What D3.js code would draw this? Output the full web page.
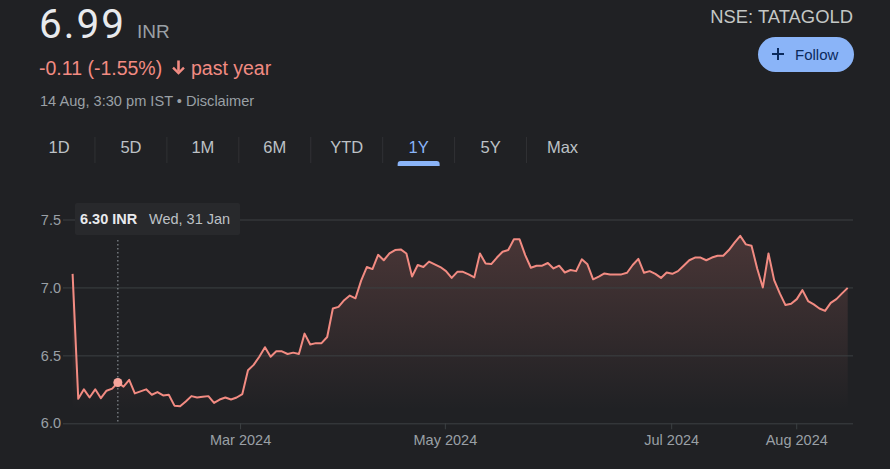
<!DOCTYPE html>
<html>
<head>
<meta charset="utf-8">
<script src="https://cdn.jsdelivr.net/npm/d3@7"></script>
<style>
  html, body { margin: 0; padding: 0; background: #202124; }
  svg { display: block; }
  text { font-family: "Liberation Sans", Arial, sans-serif; }
</style>
</head>
<body>
<div id="chart"></div>
<script>
// ---- data ----
const prices = [
  7.10, 6.18, 6.25, 6.19, 6.25, 6.185, 6.24, 6.255, 6.30, 6.27,
  6.32, 6.22, 6.235, 6.25, 6.21, 6.23, 6.205, 6.21, 6.13, 6.125,
  6.16, 6.20, 6.19, 6.195, 6.20, 6.15, 6.175, 6.19, 6.175, 6.19,
  6.215, 6.39, 6.43, 6.49, 6.56, 6.49, 6.53, 6.53, 6.51, 6.52,
  6.51, 6.66, 6.58, 6.59, 6.59, 6.635, 6.845, 6.857, 6.906, 6.94,
  6.92, 7.05, 7.15, 7.135, 7.24, 7.20, 7.25, 7.275, 7.28, 7.25,
  7.08, 7.165, 7.15, 7.19, 7.17, 7.15, 7.12, 7.07, 7.115, 7.115,
  7.096, 7.074, 7.25, 7.177, 7.172, 7.22, 7.263, 7.275, 7.354, 7.354,
  7.238, 7.145, 7.16, 7.16, 7.18, 7.14, 7.16, 7.11, 7.128, 7.12,
  7.207, 7.17, 7.06, 7.08, 7.103, 7.096, 7.096, 7.096, 7.108, 7.165,
  7.21, 7.108, 7.12, 7.10, 7.07, 7.11, 7.10, 7.12, 7.16, 7.20,
  7.22, 7.22, 7.20, 7.22, 7.233, 7.233, 7.275, 7.33, 7.38, 7.317,
  7.307, 7.14, 7.00, 7.25, 7.054, 6.956, 6.87, 6.88, 6.914, 6.98,
  6.90, 6.875, 6.845, 6.827, 6.886, 6.914, 6.956, 6.997
];
const monthTickLabels = ["Mar 2024", "May 2024", "Jul 2024", "Aug 2024"];
const monthTickIndex = [29.6, 65.8, 105.8, 127.9];
const yTickValues = [6.0, 6.5, 7.0, 7.5];
const rangeTabs = ["1D", "5D", "1M", "6M", "YTD", "1Y", "5Y", "Max"];
const activeTab = "1Y";
const hoverIndex = 8;
const hoverPrice = "6.30 INR";
const hoverDate = "Wed, 31 Jan";
const headerPrice = "6.99";
const headerCurrency = "INR";
const headerChange = "-0.11 (-1.55%)";
const headerPeriod = "past year";
const headerTime = "14 Aug, 3:30 pm IST";
const tickerName = "NSE: TATAGOLD";

// ---- drawing ----
const W = 890, H = 469;
const svg = d3.select("#chart").append("svg").attr("width", W).attr("height", H);
svg.append("rect").attr("width", W).attr("height", H).attr("fill", "#202124");

const LINE = "#f28b82";
const GRID = "#3c4043";

// Header
svg.append("text").attr("x", 39).attr("y", 38).attr("font-size", 40.5).attr("fill", "#e8eaed")
  .attr("letter-spacing", 2)
  .style("font-family", "Roboto, 'Liberation Sans', Arial").text(headerPrice);
svg.append("text").attr("x", 137).attr("y", 38).attr("font-size", 19).attr("fill", "#9aa0a6").text(headerCurrency);

svg.append("text").attr("x", 39).attr("y", 75).attr("font-size", 19.5).attr("fill", LINE).text(headerChange);
// arrow (filled, material style)
const arrowG = svg.append("g").attr("transform", "translate(178.5,68)");
arrowG.append("rect").attr("x", -1.3).attr("y", -7.5).attr("width", 2.6).attr("height", 11)
  .attr("fill", LINE);
arrowG.append("path").attr("d", "M-6.3,0.5 L0,6.8 L6.3,0.5 L4.6,-1.2 L0,3.4 L-4.6,-1.2 Z").attr("fill", LINE);
svg.append("text").attr("x", 191).attr("y", 75).attr("font-size", 19.5).attr("fill", LINE).text(headerPeriod);

svg.append("text").attr("x", 40).attr("y", 106).attr("font-size", 14.6).attr("fill", "#9aa0a6")
  .text(headerTime + " \u2022 Disclaimer");

svg.append("text").attr("x", 853).attr("y", 23).attr("font-size", 18.4).attr("text-anchor", "end")
  .attr("fill", "#c4c7c5").text(tickerName);

// Follow button
svg.append("rect").attr("x", 758).attr("y", 37).attr("width", 96).attr("height", 35).attr("rx", 17.5)
  .attr("fill", "#8ab4f8");
svg.append("path").attr("d", "M778,48 L778,60 M772,54 L784,54").attr("stroke", "#0b2a5c").attr("stroke-width", 2);
svg.append("text").attr("x", 795).attr("y", 59.5).attr("font-size", 15).attr("fill", "#0b2a5c").text("Follow");

// Tabs
const tabCenters = d3.scalePoint().domain(rangeTabs).range([59, 562.5]);
const tabG = svg.append("g");
rangeTabs.forEach((t, i) => {
  tabG.append("text").attr("x", tabCenters(t)).attr("y", 153).attr("font-size", 16.5)
    .attr("text-anchor", "middle").attr("fill", t === activeTab ? "#8ab4f8" : "#bdc1c6").text(t);
  if (i > 0) {
    const sx = (tabCenters(rangeTabs[i - 1]) + tabCenters(t)) / 2;
    tabG.append("line").attr("x1", sx).attr("x2", sx).attr("y1", 137).attr("y2", 163)
      .attr("stroke", "#303134").attr("stroke-width", 1);
  }
});
const ax = tabCenters(activeTab);
svg.append("path")
  .attr("d", `M${ax - 21},166 L${ax - 21},164 Q${ax - 21},161 ${ax - 18},161 L${ax + 18},161 Q${ax + 21},161 ${ax + 21},164 L${ax + 21},166 Z`)
  .attr("fill", "#8ab4f8");

// Scales
const x = d3.scaleLinear().domain([0, prices.length - 1]).range([72.6, 847.7]);
const y = d3.scaleLinear().domain([6.0, 7.5]).range([423.3, 219.5]);

// gradient
const defs = svg.append("defs");
const grad = defs.append("linearGradient").attr("id", "fillGrad")
  .attr("gradientUnits", "userSpaceOnUse").attr("x1", 0).attr("x2", 0)
  .attr("y1", y(7.4)).attr("y2", y(6.1));
grad.append("stop").attr("offset", 0).attr("stop-color", LINE).attr("stop-opacity", 0.2);
grad.append("stop").attr("offset", 1).attr("stop-color", LINE).attr("stop-opacity", 0.0);

const area = d3.area().x((d, i) => x(i)).y0(y(6.0)).y1(d => y(d));
svg.append("path").datum(prices).attr("d", area).attr("fill", "url(#fillGrad)");

// y grid + labels
const yAxis = d3.axisLeft(y).tickValues(yTickValues).tickFormat(d3.format(".1f"))
  .tickSize(-(853 - 63)).tickPadding(2);
const yg = svg.append("g").attr("transform", "translate(63,0)").call(yAxis);
yg.select(".domain").remove();
yg.selectAll(".tick line").attr("stroke", GRID).attr("stroke-width", 1);
yg.selectAll(".tick text").attr("fill", "#9aa0a6").attr("font-size", 14.5)
  .style("font-family", "'Liberation Sans', Arial");

// x axis
const xAxis = d3.axisBottom(x).tickValues(monthTickIndex)
  .tickFormat((d, i) => monthTickLabels[i]).tickSize(6).tickPadding(5);
const xg = svg.append("g").attr("transform", `translate(0,${y(6.0)})`).call(xAxis);
xg.select(".domain").remove();
xg.selectAll(".tick line").attr("stroke", GRID);
xg.selectAll(".tick text").attr("fill", "#9aa0a6").attr("font-size", 14.5)
  .style("font-family", "'Liberation Sans', Arial");

// hover guide
svg.append("line").attr("x1", x(hoverIndex)).attr("x2", x(hoverIndex))
  .attr("y1", 240).attr("y2", y(6.0))
  .attr("stroke", "#9aa0a6").attr("stroke-width", 1).attr("stroke-dasharray", "1.5,2.5");

// price line
const line = d3.line().x((d, i) => x(i)).y(d => y(d));
svg.append("path").datum(prices).attr("d", line).attr("fill", "none")
  .attr("stroke", LINE).attr("stroke-width", 2).attr("stroke-linejoin", "round");

// hover dot
svg.append("circle").attr("cx", x(hoverIndex)).attr("cy", y(prices[hoverIndex]))
  .attr("r", 4.5).attr("fill", "#f6a59c");

// tooltip
svg.append("rect").attr("x", 75).attr("y", 203).attr("width", 165).attr("height", 32)
  .attr("rx", 2).attr("fill", "#28292c");
svg.append("text").attr("x", 80).attr("y", 224).attr("font-size", 14.5).attr("font-weight", "bold")
  .attr("fill", "#e8eaed").text(hoverPrice);
svg.append("text").attr("x", 149).attr("y", 224).attr("font-size", 14.5)
  .attr("fill", "#bdc1c6").text(hoverDate);
</script>
</body>
</html>
